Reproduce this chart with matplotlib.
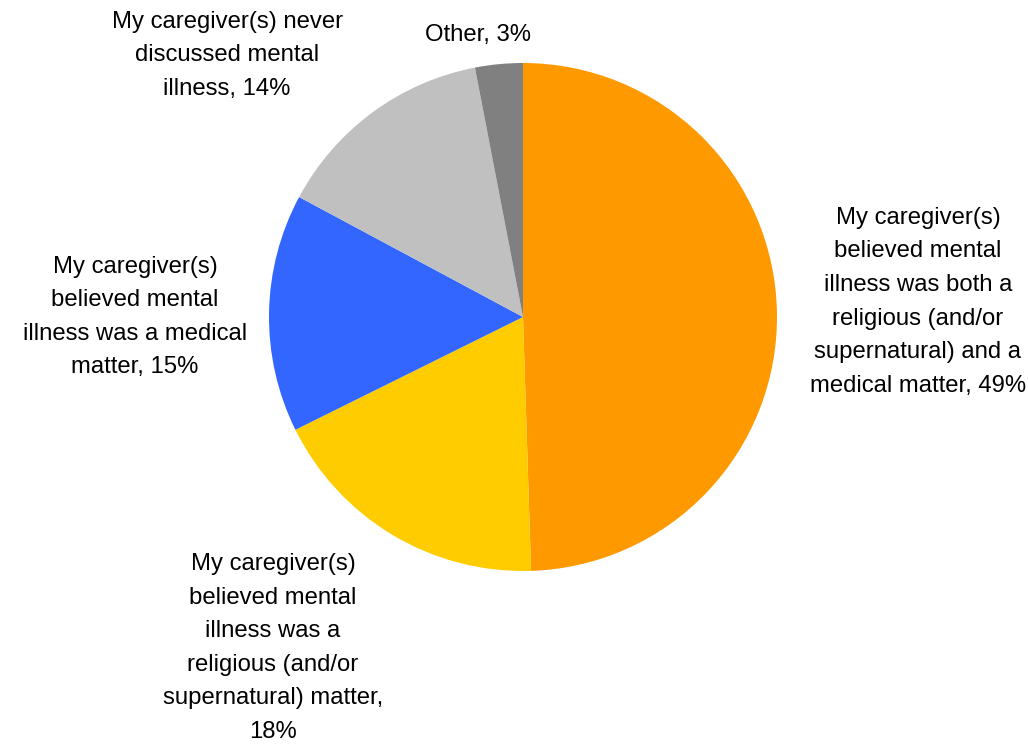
import matplotlib.pyplot as plt

plt.rcParams['font.family'] = ['Liberation Sans', 'DejaVu Sans']

# Survey answers, clockwise from 12 o'clock
labels = [
    "My caregiver(s)\nbelieved mental\nillness was both a\nreligious (and/or\nsupernatural) and a\nmedical matter, 49%",
    "My caregiver(s)\nbelieved mental\nillness was a\nreligious (and/or\nsupernatural) matter,\n18%",
    "My caregiver(s)\nbelieved mental\nillness was a medical\nmatter, 15%",
    "My caregiver(s) never\ndiscussed mental\nillness, 14%",
    "Other, 3%",
]
values = [49, 18, 15, 14, 3]
colors = ['#FF9900', '#FFCC00', '#3366FF', '#C0C0C0', '#808080']

# where each label sits, in pie units (radius = 1)
label_pos = [(1.555, 0.06), (-0.984, -1.303), (-1.528, 0.0), (-1.165, 1.03), (-0.177, 1.11)]

fig = plt.figure(figsize=(10.28, 7.44), dpi=100)
cx, cy, r = 523, 317, 254
ax = fig.add_axes([(cx - r) / 1028, (744 - cy - r) / 744, 2 * r / 1028, 2 * r / 744])

ax.pie(values, colors=colors, startangle=90, counterclock=False, radius=1,
       wedgeprops=dict(linewidth=0))
ax.set_xlim(-1, 1)
ax.set_ylim(-1, 1)
ax.set_aspect('equal')
ax.axis('off')

for text, (x, y) in zip(labels, label_pos):
    ax.text(x, y, text, ha='center', va='center', fontsize=17.2,
            linespacing=1.68, color='#000000', clip_on=False)

fig.savefig('out.png', dpi=100)
